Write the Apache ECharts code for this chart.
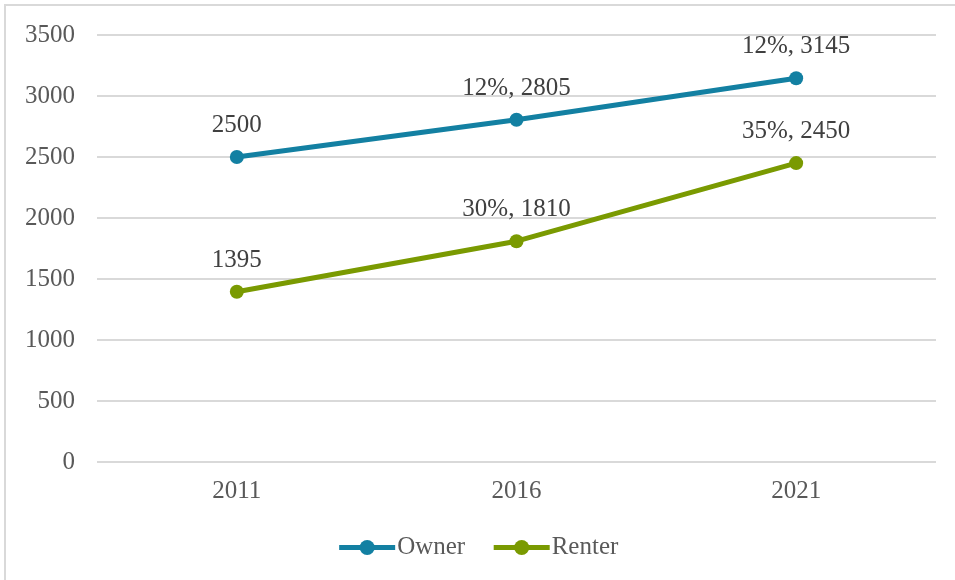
<!DOCTYPE html>
<html>
<head>
<meta charset="utf-8">
<script src="https://cdn.jsdelivr.net/npm/echarts@6/dist/echarts.min.js"></script>
<style>
  html, body { margin: 0; padding: 0; background: #fff; }
  #chart { width: 955px; height: 580px; }
</style>
</head>
<body>
<div id="chart"></div>
<script>
// data
const years = ['2011', '2016', '2021'];
const ownerValues = [2500, 2805, 3145];
const renterValues = [1395, 1810, 2450];
const ownerGrowth = ['', '12%', '12%'];   // growth vs previous census
const renterGrowth = ['', '30%', '35%'];
const yTicks = { min: 0, max: 3500, interval: 500 };

const FONT = '"Liberation Serif", "DejaVu Serif", serif';

const chart = echarts.init(document.getElementById('chart'));

// label text: "12%, 2805" or just the value for the first point
function makeLabel(growth) {
  return function (p) {
    const g = growth[p.dataIndex];
    return g ? g + ', ' + p.value : String(p.value);
  };
}

function lineSeries(name, values, growth, color) {
  return {
    name: name,
    type: 'line',
    data: values,
    symbol: 'circle',
    symbolSize: 14,
    lineStyle: { width: 5, color: color },
    itemStyle: { color: color },
    label: {
      show: true,
      position: 'top',
      distance: 12,
      formatter: makeLabel(growth),
      fontFamily: FONT,
      fontSize: 25,
      color: '#404040'
    },
    emphasis: { disabled: true }
  };
}

chart.setOption({
  backgroundColor: '#fff',
  animation: false,
  graphic: [{
    type: 'rect',
    shape: { x: 5, y: 5, width: 1200, height: 1200 },
    style: { fill: 'none', stroke: '#d9d9d9', lineWidth: 2 },
    silent: true
  }],
  grid: { left: 97, right: 19, top: 35, bottom: 118, containLabel: false },
  legend: {
    bottom: 15,
    left: 'center',
    itemWidth: 56,
    itemHeight: 19,
    itemGap: 26,
    lineStyle: { width: 5 },
    textStyle: { fontFamily: FONT, fontSize: 25, color: '#595959', padding: [0, 0, 0, -3] },
    data: ['Owner', 'Renter']
  },
  xAxis: {
    type: 'category',
    data: years,
    boundaryGap: true,
    axisLine: { show: false },
    axisTick: { show: false },
    axisLabel: { fontFamily: FONT, fontSize: 25, color: '#595959', margin: 17 }
  },
  yAxis: {
    type: 'value',
    min: yTicks.min,
    max: yTicks.max,
    interval: yTicks.interval,
    axisLine: { show: false },
    axisTick: { show: false },
    splitLine: { lineStyle: { color: '#d9d9d9', width: 2 } },
    axisLabel: {
      fontFamily: FONT, fontSize: 25, color: '#595959', margin: 22,
      formatter: function (v) { return String(v); }
    }
  },
  series: [
    lineSeries('Owner', ownerValues, ownerGrowth, '#1380a2'),
    lineSeries('Renter', renterValues, renterGrowth, '#7a9a01')
  ]
});
</script>
</body>
</html>
